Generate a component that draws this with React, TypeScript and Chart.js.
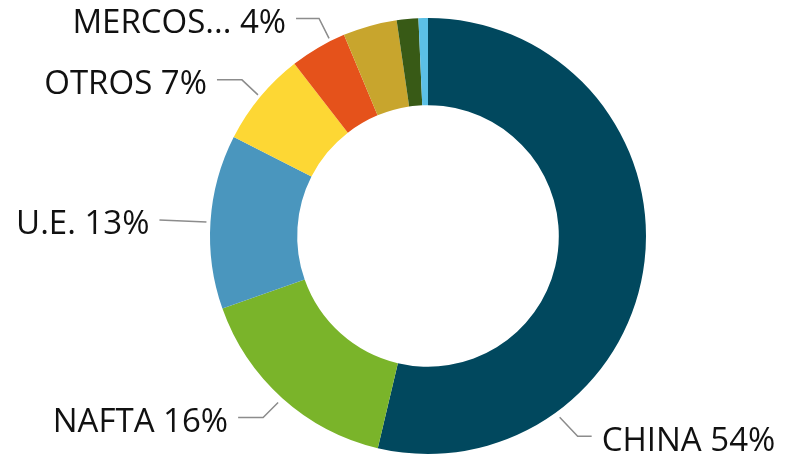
import React, { useEffect, useRef } from "react";
import { Chart, registerables } from "chart.js";

Chart.register(...registerables);

const categories = ["CHINA", "NAFTA", "U.E.", "OTROS", "OTRO2", "MERCOSUR", "OTRO3", "OTRO4"];
const values = [53.7, 15.9, 12.9, 7.0, 4.2, 4.0, 1.6, 0.7];
const labelTexts = ["CHINA 54%", "NAFTA 16%", "U.E. 13%", "OTROS 7%", "MERCOS... 4%"];
const colors = ["#01485E", "#7AB42A", "#4A96BE", "#FDD734", "#E5521B", "#C8A52D", "#385A16", "#5BC0E6"];

// leader-line style: anchor angle (deg clockwise from top), elbow offset, horizontal run
const leaderSpecs = [
  { text: 0, angle: 144, r: 224, ex: 18, ey: 19, run: 14, side: 1 },
  { text: 1, angle: 222, r: 224, ex: -15, ey: 15, run: 25, side: -1 },
  { text: 2, angle: 273.6, r: 222, ex: -47, ey: -2, run: 0, side: -1 },
  { text: 3, angle: 309.7, r: 221, ex: -16, ey: -15, run: 25, side: -1 },
  { text: 4, angle: 333.4, r: 221, ex: -10, ey: -20, run: 23, side: -1 },
];

const leaderPlugin = {
  id: "leaders",
  afterDraw(chart: any) {
    const meta = chart.getDatasetMeta(0);
    const arc = meta.data[0];
    if (!arc) return;
    const cx = arc.x;
    const cy = arc.y;
    const ctx = chart.ctx;
    ctx.save();
    ctx.strokeStyle = "#8C8C8C";
    ctx.lineWidth = 1.5;
    ctx.font = "33px 'Open Sans'";
    ctx.fillStyle = "#111";
    ctx.textBaseline = "middle";
    for (const s of leaderSpecs) {
      const a = (s.angle * Math.PI) / 180;
      const x0 = cx + s.r * Math.sin(a);
      const y0 = cy - s.r * Math.cos(a);
      const x1 = x0 + s.ex;
      const y1 = y0 + s.ey;
      const x2 = x1 + s.side * s.run;
      ctx.beginPath();
      ctx.moveTo(x0, y0);
      ctx.lineTo(x1, y1);
      ctx.lineTo(x2, y1);
      ctx.stroke();
      ctx.textAlign = s.side > 0 ? "left" : "right";
      ctx.fillText(labelTexts[s.text], x2 + s.side * 10, y1 + 5);
    }
    ctx.restore();
  },
};

export default function App() {
  const ref = useRef<HTMLCanvasElement>(null);
  useEffect(() => {
    document.body.style.margin = "0";
    const chart = new Chart(ref.current!, {
      type: "doughnut",
      data: {
        labels: categories,
        datasets: [{ data: values, backgroundColor: colors, borderWidth: 0 }],
      },
      options: {
        responsive: false,
        animation: false,
        cutout: "60%",
        layout: { padding: { top: 18, bottom: 10, left: 171, right: 100 } },
        plugins: { legend: { display: false }, tooltip: { enabled: false } },
      },
      plugins: [leaderPlugin],
    });
    return () => chart.destroy();
  }, []);
  return (
    <div style={{ position: "absolute", left: 0, top: 0, width: 785, height: 464, background: "#fff" }}>
      <canvas ref={ref} width={785} height={464} />
    </div>
  );
}
